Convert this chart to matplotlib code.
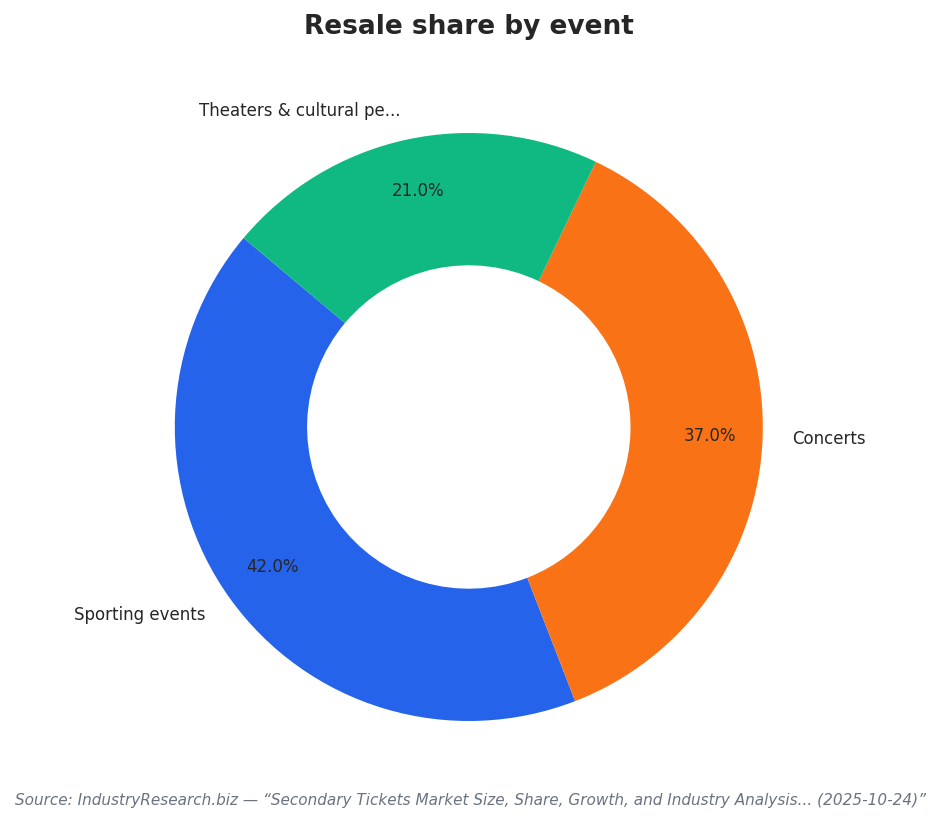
import matplotlib
matplotlib.use("Agg")
import matplotlib.pyplot as plt

plt.rcParams["font.family"] = ["DejaVu Sans"]

# data
labels = ["Sporting events", "Concerts", "Theaters & cultural pe..."]
shares = [42.0, 37.0, 21.0]
colors = ["#2563eb", "#f97316", "#10b981"]

fig = plt.figure(figsize=(9.38, 8.24), dpi=100)
ax = fig.add_axes([0.108, 0.0358, 0.7836, 0.892])

wedges, texts, autotexts = ax.pie(
    shares,
    labels=labels,
    colors=colors,
    startangle=140,
    autopct="%1.1f%%",
    pctdistance=0.82,
    labeldistance=1.1,
    wedgeprops=dict(width=0.45, edgecolor="none"),
)
for t in texts:
    t.set_fontsize(12)
    t.set_color("#262626")
for t in autotexts:
    t.set_fontsize(12)
    t.set_color("#262626")
ax.set_aspect("equal")

fig.text(0.5, 0.967, "Resale share by event", ha="center", va="center",
         fontsize=19, fontweight="bold", color="#262626")
fig.text(0.016, 0.028,
         "Source: IndustryResearch.biz \u2014 \u201cSecondary Tickets Market Size, Share, Growth, and Industry Analysis... (2025-10-24)\u201d",
         ha="left", va="center", fontsize=11, style="italic", color="#6b7280")

fig.savefig("out.png", dpi=100)
